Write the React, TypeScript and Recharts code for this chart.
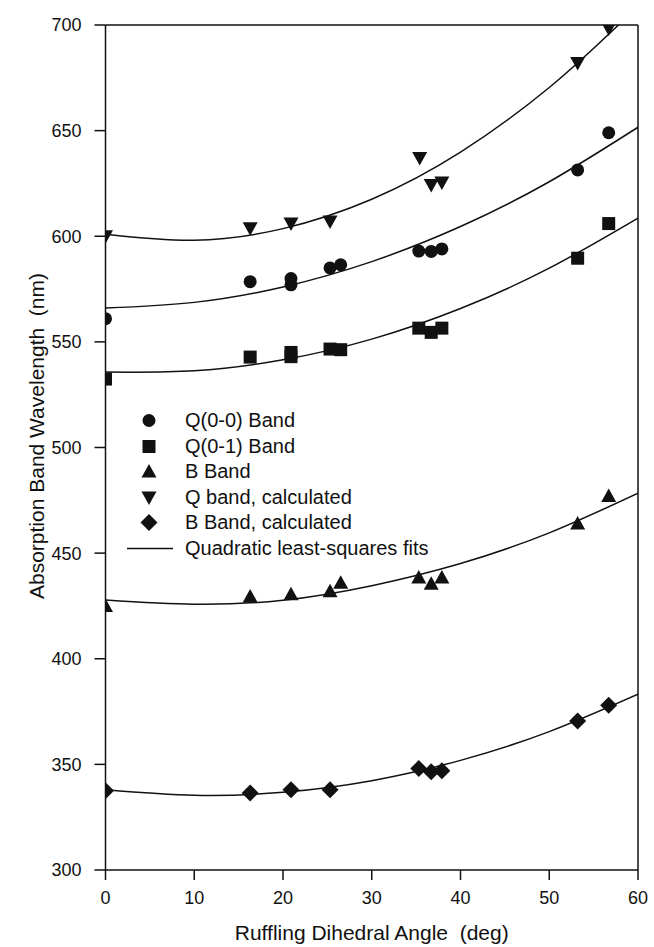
import { ComposedChart, Scatter, Line, XAxis, YAxis, ReferenceLine } from 'recharts'

const qAngles = [0, 16.3, 20.9, 20.9, 25.3, 26.5, 35.3, 36.7, 37.9, 53.2, 56.7]
const q00Values = [561, 578.5, 577, 580, 585, 586.5, 593, 592.8, 594, 631.4, 649]
const q01Values = [532.4, 542.8, 543, 545, 546.6, 546.3, 556.5, 554.5, 556.5, 589.6, 606]

const bAngles = [0, 16.3, 20.9, 25.3, 26.5, 35.3, 36.7, 37.9, 53.2, 56.7]
const bValues = [425, 429.5, 430.5, 432, 436, 438.5, 435.5, 438.5, 464, 477]

const qCalcAngles = [0, 16.3, 20.9, 25.3, 35.4, 36.7, 37.9, 53.2, 56.7]
const qCalcValues = [600, 603.8, 606, 607, 637, 624.3, 625.4, 682, 698.4]

const bCalcAngles = [0, 16.3, 20.9, 25.3, 35.3, 36.7, 37.9, 53.2, 56.7]
const bCalcValues = [337.5, 336.5, 338, 338, 348, 346.5, 347, 370.5, 378]

// fitted curves, read at the x ticks
const fitAngles = [0, 10, 20, 30, 40, 50, 60]
const q00Fit = [566, 568.7, 576, 588, 604.6, 625.8, 651.6]
const q01Fit = [535.7, 536.3, 541.5, 551.3, 565.8, 584.9, 608.6]
const bFit = [427.8, 425.8, 427.7, 434.6, 445.1, 459.6, 478.4]
const bCalcFit = [338, 335.4, 336.8, 342.3, 351.9, 365.5, 383.2]
const qCalcFitAngles = [0, 10, 20, 30, 40, 50, 57.8]
const qCalcFit = [601, 598.1, 603.6, 617.5, 639.8, 670.4, 700]

const xTicks = [0, 10, 20, 30, 40, 50, 60]
const yTicks = [300, 350, 400, 450, 500, 550, 600, 650, 700]

const legendLabels = [
  'Q(0-0) Band',
  'Q(0-1) Band',
  'B Band',
  'Q band, calculated',
  'B Band, calculated',
  'Quadratic least-squares fits',
]

const xTitle = 'Ruffling Dihedral Angle \u00a0(deg)'
const yTitle = 'Absorption Band Wavelength \u00a0(nm)'

const zip = (xs: number[], ys: number[]) => xs.map((x, i) => ({ x, y: ys[i] }))

const INK = '#111'
const FONT = '"Liberation Sans", Arial, sans-serif'

const CircleMark = (p: any) => <circle cx={p.cx} cy={p.cy} r={6.5} fill={INK} />
const SquareMark = (p: any) => <rect x={p.cx - 6.5} y={p.cy - 6.5} width={13} height={13} fill={INK} />
const TriUp = (p: any) => (
  <polygon points={`${p.cx},${p.cy - 7.5} ${p.cx + 7.5},${p.cy + 6} ${p.cx - 7.5},${p.cy + 6}`} fill={INK} />
)
const TriDown = (p: any) => (
  <polygon points={`${p.cx - 7.5},${p.cy - 6} ${p.cx + 7.5},${p.cy - 6} ${p.cx},${p.cy + 7.5}`} fill={INK} />
)
const DiamondMark = (p: any) => (
  <polygon points={`${p.cx},${p.cy - 8.5} ${p.cx + 8.5},${p.cy} ${p.cx},${p.cy + 8.5} ${p.cx - 8.5},${p.cy}`} fill={INK} />
)

const legendShapes = [CircleMark, SquareMark, TriUp, TriDown, DiamondMark]

function LegendBox() {
  return (
    <div style={{ position: 'absolute', left: 115, top: 408, fontFamily: FONT, fontSize: 20, color: INK }}>
      {legendLabels.map((label, i) => {
        const Shape = legendShapes[i]
        return (
          <div key={label} style={{ display: 'flex', alignItems: 'center', height: 25.5 }}>
            <svg width={60} height={25} style={{ marginRight: 10 }}>
              {Shape ? (
                <Shape cx={34} cy={12.5} />
              ) : (
                <line x1={12} y1={12.5} x2={58} y2={12.5} stroke={INK} strokeWidth={1.5} />
              )}
            </svg>
            <span>{label}</span>
          </div>
        )
      })}
    </div>
  )
}

const YTitle = () => (
  <text
    x={36}
    y={436}
    transform="rotate(-90 36 436)"
    textAnchor="middle"
    dominantBaseline="central"
    fontFamily={FONT}
    fontSize={21}
    fill={INK}
  >
    {yTitle}
  </text>
)

export default function App() {
  const tickStyle = { fontFamily: FONT, fontSize: 18, fill: INK }
  return (
    <div style={{ position: 'absolute', left: 0, top: 0, width: 654, height: 947, background: '#fff' }}>
      <ComposedChart width={654} height={947} margin={{ top: 25, right: 16, bottom: 0, left: 0 }}>
        <XAxis
          dataKey="x"
          type="number"
          domain={[0, 60]}
          ticks={xTicks}
          allowDataOverflow
          height={77}
          tickSize={10}
          tickMargin={11}
          tick={tickStyle}
          stroke={INK}
          strokeWidth={1.5}
          label={{ value: xTitle, position: 'insideBottom', offset: 7, style: { fontFamily: FONT, fontSize: 21, fill: INK } }}
        />
        <YAxis
          type="number"
          domain={[300, 700]}
          ticks={yTicks}
          allowDataOverflow
          width={105.5}
          tickSize={11}
          tickMargin={13}
          tick={tickStyle}
          stroke={INK}
          strokeWidth={1.5}
          label={<YTitle />}
        />
        <ReferenceLine y={700} stroke={INK} strokeWidth={1.5} />
        <ReferenceLine x={60} stroke={INK} strokeWidth={1.5} />

        <Line data={zip(fitAngles, q00Fit)} dataKey="y" type="natural" dot={false} stroke={INK} strokeWidth={1.5} isAnimationActive={false} />
        <Line data={zip(fitAngles, q01Fit)} dataKey="y" type="natural" dot={false} stroke={INK} strokeWidth={1.5} isAnimationActive={false} />
        <Line data={zip(fitAngles, bFit)} dataKey="y" type="natural" dot={false} stroke={INK} strokeWidth={1.5} isAnimationActive={false} />
        <Line data={zip(fitAngles, bCalcFit)} dataKey="y" type="natural" dot={false} stroke={INK} strokeWidth={1.5} isAnimationActive={false} />
        <Line data={zip(qCalcFitAngles, qCalcFit)} dataKey="y" type="natural" dot={false} stroke={INK} strokeWidth={1.5} isAnimationActive={false} />

        <Scatter name="Q(0-0) Band" data={zip(qAngles, q00Values)} dataKey="y" shape={CircleMark} isAnimationActive={false} />
        <Scatter name="Q(0-1) Band" data={zip(qAngles, q01Values)} dataKey="y" shape={SquareMark} isAnimationActive={false} />
        <Scatter name="B Band" data={zip(bAngles, bValues)} dataKey="y" shape={TriUp} isAnimationActive={false} />
        <Scatter name="Q band, calculated" data={zip(qCalcAngles, qCalcValues)} dataKey="y" shape={TriDown} isAnimationActive={false} />
        <Scatter name="B Band, calculated" data={zip(bCalcAngles, bCalcValues)} dataKey="y" shape={DiamondMark} isAnimationActive={false} />
      </ComposedChart>
      <LegendBox />
    </div>
  )
}
